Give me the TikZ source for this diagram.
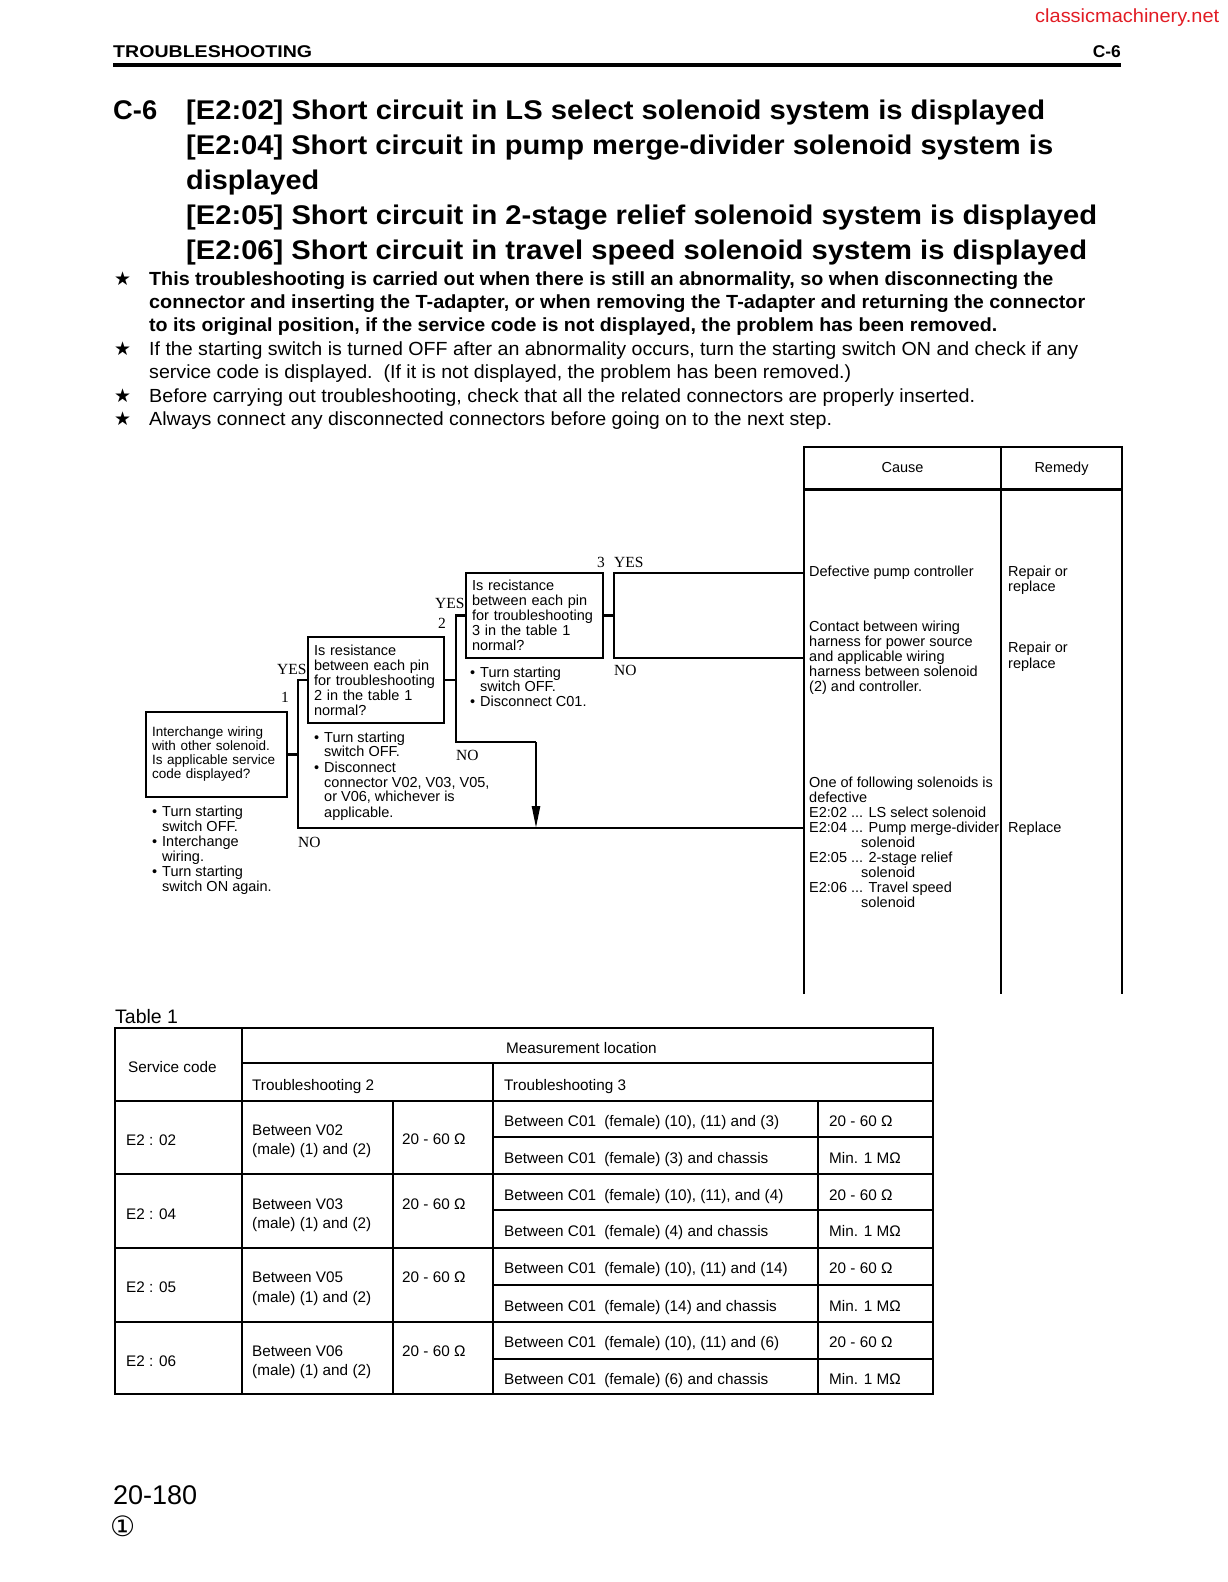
\documentclass[tikz,border=0pt]{standalone}
\usepackage{fontspec}
\setmainfont{Liberation Sans}
\newfontfamily\serifF{Liberation Serif}
\newfontfamily\djv{DejaVu Sans}
\usetikzlibrary{arrows.meta}
\definecolor{wmred}{RGB}{226,28,36}
\newcommand\fs[2]{\fontsize{#1}{#2}\selectfont}
\newcommand\FW[2]{\resizebox{#1pt}{\height}{#2}}
\newcount\tcnt
\newcommand\T[4][]{\global\advance\tcnt by 1\relax
  \node[txt,#1] (t\the\tcnt) at (#2,#3) {#4};}
\begin{document}
\begin{tikzpicture}[x=1pt,y=-1pt,
  txt/.style={anchor=base west,inner sep=0pt},
  fl/.style={line width=2.4pt},
  cl/.style={line width=2.4pt},
  tb/.style={line width=1.8pt},
  qbox/.style={draw,line width=2.4pt,inner xsep=6pt,inner ysep=0pt,align=left,
     font=\fs{14.5}{15}},
  flt/.style={txt,font=\fs{14.5}{15}},
  yn/.style={txt,font=\serifF\fs{15.5}{16}},
  tt/.style={txt,font=\fs{15.3}{16}}]
\useasboundingbox (0,0) rectangle (1228,1582);
\fill[white] (0,0) rectangle (1228,1582);

% ---------- header ----------
\T[text=wmred]{1035}{22}{\fs{19}{20}\FW{184}{classicmachinery.net}}
\T{113}{57}{\fs{17}{18}\bfseries\FW{199}{TROUBLESHOOTING}}
\T[anchor=base east]{1121}{57}{\fs{17}{18}\bfseries\FW{28}{C-6}}
\draw[line width=4pt] (113,64.5) -- (1121,64.5);

% ---------- title ----------
\T{113}{119}{\fs{27}{35}\bfseries\FW{44}{C-6}}
\T{186}{119}{\fs{27}{35}\bfseries\FW{859}{[E2:02] Short circuit in LS select solenoid system is displayed}}
\T{186}{154}{\fs{27}{35}\bfseries\FW{867}{[E2:04] Short circuit in pump merge-divider solenoid system is}}
\T{186}{189}{\fs{27}{35}\bfseries\FW{133}{displayed}}
\T{186}{224}{\fs{27}{35}\bfseries\FW{911}{[E2:05] Short circuit in 2-stage relief solenoid system is displayed}}
\T{186}{259}{\fs{27}{35}\bfseries\FW{901}{[E2:06] Short circuit in travel speed solenoid system is displayed}}

% ---------- notes ----------
\foreach \yy in {285,355,402,425}{\T{114}{\yy}{\djv\fs{19}{20}★}}
\T{149}{285}{\fs{19}{22}\bfseries\FW{904}{This troubleshooting is carried out when there is still an abnormality, so when disconnecting the}}
\T{149}{308}{\fs{19}{22}\bfseries\FW{936}{connector and inserting the T-adapter, or when removing the T-adapter and returning the connector}}
\T{149}{331}{\fs{19}{22}\bfseries\FW{848}{to its original position, if the service code is not displayed, the problem has been removed.}}
\T{149}{355}{\fs{19}{22}\FW{929}{If the starting switch is turned OFF after an abnormality occurs, turn the starting switch ON and check if any}}
\T{149}{378}{\fs{19}{22}\FW{702}{service code is displayed.\ \ (If it is not displayed, the problem has been removed.)}}
\T{149}{402}{\fs{19}{22}\FW{826}{Before carrying out troubleshooting, check that all the related connectors are properly inserted.}}
\T{149}{425}{\fs{19}{22}\FW{683}{Always connect any disconnected connectors before going on to the next step.}}

% ---------- cause / remedy table ----------
\node[inner sep=0pt,minimum width=318pt,minimum height=547pt] (ct) at (963,720.5) {};
\draw[cl] (ct.south west) -- (ct.north west) -- (ct.north east) -- (ct.south east);
\draw[line width=3pt] (804,489) -- (1122,489);
\draw[cl] (1001,447) -- (1001,994);
\node[font=\fs{14.5}{15},anchor=base] (hcause) at (902.5,472) {Cause};
\node[font=\fs{14.5}{15},anchor=base] (hrem) at (1061.5,472) {Remedy};

\T[flt]{809}{576.5}{Defective pump controller}
\T[flt]{1008}{576.5}{Repair or}
\T[flt]{1008}{591.5}{replace}
\T[flt]{809}{631.5}{Contact between wiring}
\T[flt]{809}{646.5}{harness for power source}
\T[flt]{809}{661.5}{and applicable wiring}
\T[flt]{809}{676.5}{harness between solenoid}
\T[flt]{809}{691.5}{(2) and controller.}
\T[flt]{1008}{652.5}{Repair or}
\T[flt]{1008}{668.5}{replace}
\T[flt]{809}{787.5}{One of following solenoids is}
\T[flt]{809}{802.5}{defective}
\T[flt]{809}{817.5}{E2:02 ... LS select solenoid}
\T[flt]{809}{832.5}{E2:04 ... Pump merge-divider}
\T[flt]{861}{847.5}{solenoid}
\T[flt]{809}{862.5}{E2:05 ... 2-stage relief}
\T[flt]{861}{877.5}{solenoid}
\T[flt]{809}{892.5}{E2:06 ... Travel speed}
\T[flt]{861}{907.5}{solenoid}
\T[flt]{1008}{832.5}{Replace}

% ---------- flowchart boxes ----------
\node[qbox,font=\fs{13.5}{14},minimum width=141pt,minimum height=85pt,text width=129pt] (b1) at (216.5,754.5)
  {Interchange wiring\\with other solenoid.\\Is applicable service\\code displayed?};
\node[qbox,minimum width=136pt,minimum height=86pt,text width=124pt] (b2) at (376,680)
  {Is resistance\\between each pin\\for troubleshooting\\2 in the table 1\\normal?};
\node[qbox,minimum width=137pt,minimum height=85pt,text width=125pt] (b3) at (534.5,615.5)
  {Is recistance\\between each pin\\for troubleshooting\\3 in the table 1\\normal?};

% ---------- connectors ----------
\coordinate (y1) at (298,680);
\coordinate (n1) at (298,828);
\draw[fl] (b2.west) -- (y1) -- (n1) -- (n1 -| ct.west);
\draw[fl] (b1.east) -- (b1.east -| y1);
\coordinate (y2) at (456,615.5);
\coordinate (n2) at (456,742);
\coordinate (a2) at (536,742);
\draw[fl] (b3.west) -- (y2) -- (n2) -- (a2);
\draw[fl,-{Triangle[length=22pt,width=8pt]}] (a2) -- (a2 |- n1);
\draw[fl] (b2.east) -- (b2.east -| y2);
\coordinate (y3) at (614,573);
\coordinate (n3) at (614,658);
\draw[fl] (y3 -| ct.west) -- (y3) -- (n3) -- (n3 -| ct.west);
\draw[fl] (b3.east) -- (b3.east -| y3);

% ---------- YES / NO labels ----------
\T[yn]{597}{567.5}{3}
\T[yn]{614}{567.5}{YES}
\T[yn]{435}{608}{YES}
\T[yn]{438}{628}{2}
\T[yn]{277}{674}{YES}
\T[yn]{281}{702}{1}
\T[yn]{614}{675}{NO}
\T[yn]{456}{760}{NO}
\T[yn]{298}{847}{NO}

% ---------- flowchart notes ----------
\T[flt]{470}{677.5}{•}\T[flt]{480}{677.5}{Turn starting}
\T[flt]{480}{691.5}{switch OFF.}
\T[flt]{470}{706.5}{•}\T[flt]{480}{706.5}{Disconnect C01.}

\T[flt]{314}{742.5}{•}\T[flt]{324}{742.5}{Turn starting}
\T[flt]{324}{756.5}{switch OFF.}
\T[flt]{314}{772.5}{•}\T[flt]{324}{772.5}{Disconnect}
\T[flt]{324}{787.5}{connector V02, V03, V05,}
\T[flt]{324}{801.5}{or V06, whichever is}
\T[flt]{324}{817}{applicable.}

\T[flt]{152}{816.5}{•}\T[flt]{162}{816.5}{Turn starting}
\T[flt]{162}{831}{switch OFF.}
\T[flt]{152}{846.5}{•}\T[flt]{162}{846.5}{Interchange}
\T[flt]{162}{861.5}{wiring.}
\T[flt]{152}{876.5}{•}\T[flt]{162}{876.5}{Turn starting}
\T[flt]{162}{891}{switch ON again.}

% ---------- Table 1 ----------
\T{115}{1023}{\fs{19.5}{20}Table 1}
\draw[tb] (115,1028) rectangle (933,1394);
\draw[tb] (242,1028) -- (242,1394);
\draw[tb] (242,1063) -- (933,1063);
\draw[tb] (115,1101) -- (933,1101);
\draw[tb] (493,1063) -- (493,1394);
\draw[tb] (393,1101) -- (393,1394);
\draw[tb] (818,1101) -- (818,1394);
\foreach \yy in {1174,1248,1322}{\draw[tb] (115,\yy) -- (933,\yy);}
\foreach \yy in {1137,1210,1285,1359}{\draw[tb] (493,\yy) -- (933,\yy);}

\T[tt]{128}{1072}{Service code}
\T[tt]{506}{1053}{Measurement location}
\T[tt]{252}{1090}{Troubleshooting 2}
\T[tt]{504}{1090}{Troubleshooting 3}

\T[tt]{126}{1145}{E2 : 02}
\T[tt]{126}{1219}{E2 : 04}
\T[tt]{126}{1292}{E2 : 05}
\T[tt]{126}{1366}{E2 : 06}

\T[tt]{252}{1135}{Between V02}\T[tt]{252}{1154}{(male) (1) and (2)}
\T[tt]{252}{1209}{Between V03}\T[tt]{252}{1228}{(male) (1) and (2)}
\T[tt]{252}{1282}{Between V05}\T[tt]{252}{1302}{(male) (1) and (2)}
\T[tt]{252}{1356}{Between V06}\T[tt]{252}{1375}{(male) (1) and (2)}

\T[tt]{402}{1144}{20 - 60 Ω}
\T[tt]{402}{1209}{20 - 60 Ω}
\T[tt]{402}{1282}{20 - 60 Ω}
\T[tt]{402}{1356}{20 - 60 Ω}

\T[tt]{504}{1126}{Between C01\hspace{4pt} (female) (10), (11) and (3)}
\T[tt]{504}{1163}{Between C01\hspace{4pt} (female) (3) and chassis}
\T[tt]{504}{1200}{Between C01\hspace{4pt} (female) (10), (11), and (4)}
\T[tt]{504}{1236}{Between C01\hspace{4pt} (female) (4) and chassis}
\T[tt]{504}{1273}{Between C01\hspace{4pt} (female) (10), (11) and (14)}
\T[tt]{504}{1311}{Between C01\hspace{4pt} (female) (14) and chassis}
\T[tt]{504}{1347}{Between C01\hspace{4pt} (female) (10), (11) and (6)}
\T[tt]{504}{1384}{Between C01\hspace{4pt} (female) (6) and chassis}

\T[tt]{829}{1126}{20 - 60 Ω}
\T[tt]{829}{1163}{Min. 1 MΩ}
\T[tt]{829}{1200}{20 - 60 Ω}
\T[tt]{829}{1236}{Min. 1 MΩ}
\T[tt]{829}{1273}{20 - 60 Ω}
\T[tt]{829}{1311}{Min. 1 MΩ}
\T[tt]{829}{1347}{20 - 60 Ω}
\T[tt]{829}{1384}{Min. 1 MΩ}

% ---------- footer ----------
\T{113}{1504}{\fs{27}{30}20-180}
\T{110}{1536}{\djv\fs{28}{30}①}
\end{tikzpicture}
\end{document}
